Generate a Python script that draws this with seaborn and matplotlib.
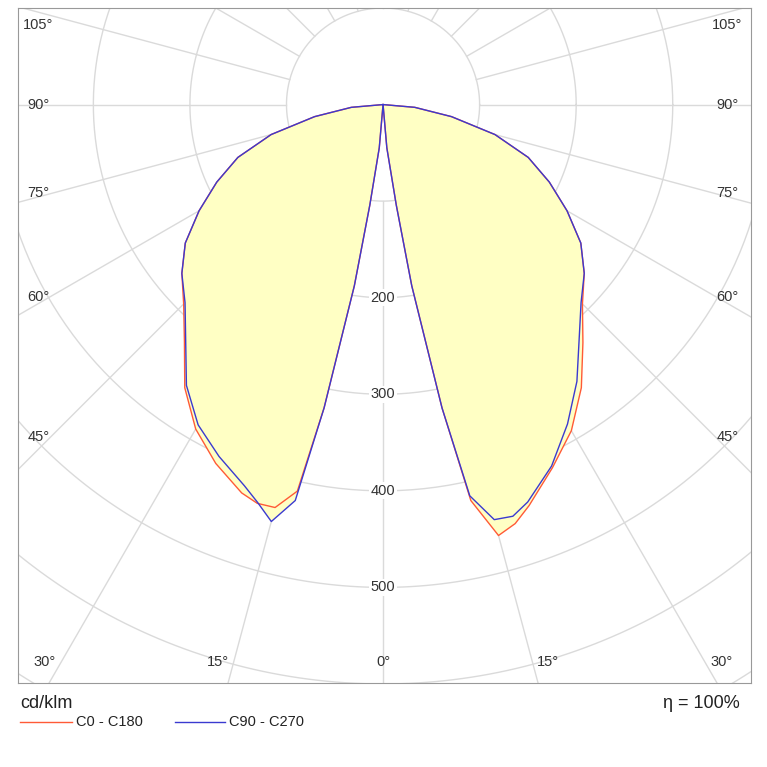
import numpy as np
import pandas as pd
import matplotlib
matplotlib.use("Agg")
import matplotlib.pyplot as plt
import seaborn as sns

plt.rcParams["font.family"] = "Liberation Sans"

angles = [0, 5, 7.5, 9, 11, 12.5, 15, 17.5, 20, 25, 30, 35, 40, 45, 50, 55, 60, 65, 70, 75, 80, 85, 90]
c0   = [0, 45, 105, 190, 320, 420, 462, 455, 442, 415, 390, 358, 322, 292, 272, 250, 220, 190, 160, 120, 72, 33, 0]
c180 = [0, 45, 105, 190, 320, 410, 432, 433, 428, 410, 388, 358, 320, 292, 272, 250, 220, 190, 160, 120, 72, 33, 0]
c90  = [0, 45, 105, 190, 320, 415, 445, 447, 438, 413, 382, 350, 316, 290, 272, 250, 220, 190, 160, 120, 72, 33, 0]
c270 = [0, 45, 105, 190, 320, 420, 447, 432, 420, 402, 383, 355, 318, 290, 272, 250, 220, 190, 160, 120, 72, 33, 0]
rings = [100, 200, 300, 400, 500, 600, 700, 800]
ring_labels = [200, 300, 400, 500]

def to_xy(ang, r, side):
    t = np.radians(np.asarray(ang, float))
    r = np.asarray(r, float)
    return side * r * np.sin(t), -r * np.cos(t)

def curve(left, right):
    xl, yl = to_xy(angles[::-1], left[::-1], -1)
    xr, yr = to_xy(angles, right, 1)
    return pd.DataFrame({"x": np.r_[xl, xr], "y": np.r_[yl, yr]})

red = curve(c180, c0)
blue = curve(c270, c90)

fig = plt.figure(figsize=(7.67, 7.67), dpi=100)
ax = fig.add_axes([18/767, 84/767, 733/767, 675/767])
ax.set_xlim(-378, 381)
ax.set_ylim(-599, 100)
ax.set_aspect("equal")
gc = "#dadada"
th = np.linspace(0, 2*np.pi, 400)
for r in rings:
    ax.plot(r*np.cos(th), r*np.sin(th), color=gc, lw=1, zorder=1)
for a in range(0, 360, 15):
    t = np.radians(a)
    ax.plot([100*np.sin(t), 1000*np.sin(t)], [-100*np.cos(t), -1000*np.cos(t)], color=gc, lw=1, zorder=1)

for d in (red, blue):
    ax.fill(d["x"], d["y"], color="#ffffc4", zorder=2, lw=0)
sns.lineplot(data=red, x="x", y="y", sort=False, estimator=None, color="#ff5a36", lw=1, ax=ax, zorder=3)
sns.lineplot(data=blue, x="x", y="y", sort=False, estimator=None, color="#3a3ad0", lw=1, ax=ax, zorder=4)

for v in ring_labels:
    ax.text(0, -v, str(v), ha="center", va="center", fontsize=10.5, color="#333",
            bbox=dict(facecolor="white", edgecolor="none", pad=1), zorder=5)

tc = "#333333"
side = [("105°", 25), ("90°", 105), ("75°", 193), ("60°", 297), ("45°", 437)]
for lab, py in side:
    fy = 1 - (py - 8) / 675
    ax.text(0.028, fy, lab, transform=ax.transAxes, ha="center", va="center", fontsize=10.5, color=tc)
    ax.text(0.968, fy, lab, transform=ax.transAxes, ha="center", va="center", fontsize=10.5, color=tc)
for lab, px in [("30°", 45), ("15°", 218), ("0°", 383), ("15°", 548), ("30°", 722)]:
    ax.text((px - 18) / 733, 1 - (662 - 8) / 675, lab, transform=ax.transAxes,
            ha="center", va="center", fontsize=10.5, color=tc)

ax.set_xticks([]); ax.set_yticks([])
ax.set_xlabel(""); ax.set_ylabel("")
for s in ax.spines.values():
    s.set_color("#999999")

fig.text(20/767, 1 - 703/767, "cd/klm", fontsize=13, va="center", color="#222")
fig.text(740/767, 1 - 703/767, "η = 100%", fontsize=13, va="center", ha="right", color="#222")
fig.add_artist(plt.Line2D([20/767, 72/767], [1-722/767]*2, color="#ff5a36", lw=1))
fig.text(76/767, 1 - 722/767, "C0 - C180", fontsize=10.5, va="center", color="#222")
fig.add_artist(plt.Line2D([175/767, 225/767], [1-722/767]*2, color="#3a3ad0", lw=1))
fig.text(229/767, 1 - 722/767, "C90 - C270", fontsize=10.5, va="center", color="#222")

fig.savefig("out.png", dpi=100, facecolor="white")
